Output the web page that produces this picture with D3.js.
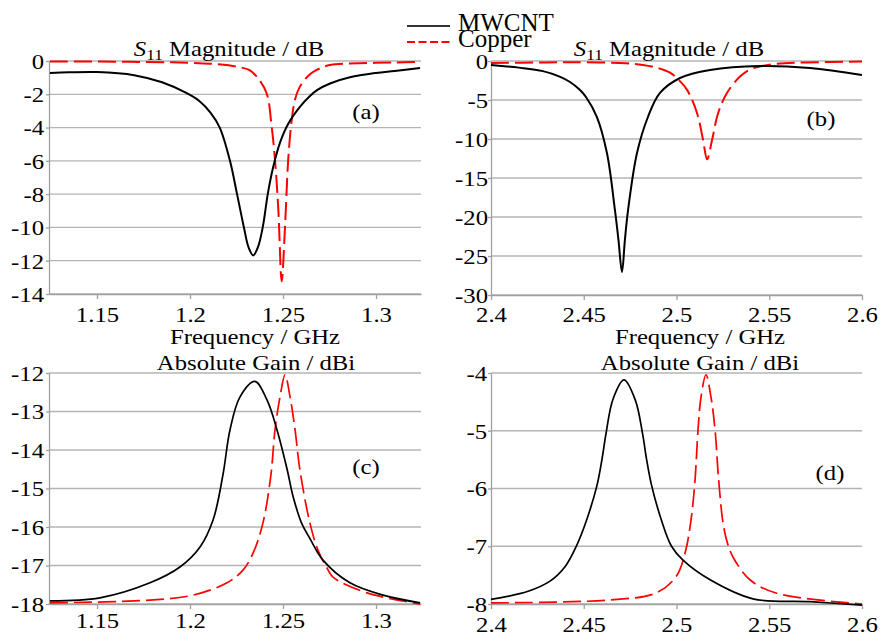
<!DOCTYPE html>
<html>
<head>
<meta charset="utf-8">
<script src="https://cdn.jsdelivr.net/npm/d3@7"></script>
<style>
  body { margin: 0; background: #fff; }
  svg { display: block; font-family: "Liberation Serif", "Times New Roman", serif; }
</style>
</head>
<body>
<div class="layout"></div>
<script>

// (a) S11 around 1.25 GHz
var aFreqMwcnt = [1.1247, 1.135, 1.15, 1.17, 1.185, 1.198, 1.205, 1.211, 1.216, 1.2215, 1.2253, 1.229, 1.2315, 1.234, 1.2365, 1.2392, 1.2419, 1.2448, 1.2484, 1.2529, 1.2591, 1.2645, 1.2683, 1.2753, 1.286, 1.30, 1.31, 1.3237]
var aMwcnt = [-0.72, -0.68, -0.66, -0.85, -1.28, -1.92, -2.4, -3.1, -4.0, -6.0, -8.0, -10.0, -11.2, -11.68, -11.2, -9.94, -7.94, -6.34, -4.9, -3.75, -2.75, -2.1, -1.75, -1.35, -0.98, -0.72, -0.6, -0.42]
var aFreqCopper = [1.1247, 1.16, 1.19, 1.205, 1.215, 1.2251, 1.232, 1.2359, 1.2412, 1.2439, 1.2457, 1.2475, 1.2493, 1.2511, 1.2528, 1.2547, 1.2565, 1.2591, 1.2635, 1.2681, 1.2753, 1.29, 1.31, 1.3237]
var aCopper = [-0.03, -0.04, -0.08, -0.13, -0.2, -0.34, -0.55, -0.94, -1.94, -3.94, -5.94, -8.94, -13.24, -9.94, -5.94, -3.54, -2.3, -1.54, -0.9, -0.54, -0.24, -0.14, -0.09, -0.06]

// (b) S11 around 2.5 GHz
var bFreqMwcnt = [2.4, 2.415, 2.428, 2.437, 2.4426, 2.448, 2.4512, 2.4571, 2.4625, 2.4668, 2.4687, 2.4706, 2.4722, 2.4739, 2.4787, 2.4846, 2.4911, 2.5019, 2.5181, 2.545, 2.572, 2.6]
var bMwcnt = [-0.5, -0.85, -1.3, -2.0, -2.69, -3.72, -4.62, -7.18, -11.8, -19.1, -22.9, -27.05, -22.9, -19.1, -11.8, -7.18, -4.1, -2.18, -1.15, -0.64, -0.9, -1.8]
var bFreqCopper = [2.4, 2.43, 2.4458, 2.4728, 2.4819, 2.49, 2.4965, 2.5011, 2.5057, 2.5111, 2.5143, 2.5165, 2.5192, 2.5224, 2.5272, 2.5342, 2.5396, 2.545, 2.5536, 2.57, 2.6]
var bCopper = [-0.26, -0.18, -0.15, -0.3, -0.5, -0.9, -1.5, -2.4, -3.7, -6.7, -10.1, -12.6, -10.1, -6.7, -4.1, -2.0, -1.1, -0.7, -0.35, -0.18, -0.08]

// (c) gain around 1.25 GHz
var cFreqMwcnt = [1.1247, 1.1516, 1.1785, 1.1946, 1.2054, 1.2124, 1.2177, 1.2215, 1.2269, 1.2349, 1.2414, 1.2468, 1.2522, 1.2554, 1.26, 1.2645, 1.2715, 1.286, 1.3038, 1.3237]
var cMwcnt = [-17.92, -17.84, -17.45, -17.04, -16.52, -15.82, -14.65, -13.48, -12.62, -12.22, -12.7, -13.48, -14.5, -15.2, -15.9, -16.3, -16.86, -17.45, -17.77, -17.97]
var cFreqCopper = [1.1247, 1.1785, 1.2016, 1.2199, 1.2285, 1.2339, 1.2392, 1.2435, 1.2457, 1.2484, 1.2511, 1.2538, 1.2565, 1.2591, 1.2645, 1.2688, 1.2735, 1.2769, 1.2952, 1.3237]
var cCopper = [-17.97, -17.9, -17.77, -17.45, -17.12, -16.68, -15.9, -14.65, -13.48, -12.62, -12.05, -12.62, -13.48, -14.52, -15.9, -16.6, -17.05, -17.3, -17.71, -18.0]

// (d) gain around 2.5 GHz
var dFreqMwcnt = [2.4, 2.42, 2.432, 2.44, 2.446, 2.4515, 2.4571, 2.4598, 2.462, 2.4658, 2.4717, 2.4778, 2.4817, 2.4839, 2.4866, 2.4919, 2.4973, 2.5035, 2.5181, 2.5412, 2.572, 2.6]
var dMwcnt = [-7.92, -7.78, -7.6, -7.35, -7.0, -6.55, -5.95, -5.5, -5.05, -4.45, -4.12, -4.47, -5.05, -5.5, -5.95, -6.55, -7.0, -7.24, -7.58, -7.91, -7.96, -8.02]
var dFreqCopper = [2.4, 2.4642, 2.4889, 2.4997, 2.5046, 2.5078, 2.51, 2.5116, 2.5132, 2.5159, 2.5186, 2.5208, 2.5226, 2.5251, 2.5275, 2.5305, 2.5396, 2.5536, 2.6]
var dCopper = [-7.98, -7.93, -7.81, -7.53, -7.12, -6.55, -5.85, -4.99, -4.42, -4.03, -4.42, -4.99, -5.8, -6.6, -6.95, -7.19, -7.58, -7.81, -8.0]

// tick labels
var xTicksLow = [1.15, 1.2, 1.25, 1.3]
var xTicksHigh = [2.4, 2.45, 2.5, 2.55, 2.6]
var yTicksA = [0, -2, -4, -6, -8, -10, -12, -14]
var yTicksB = [0, -5, -10, -15, -20, -25, -30]
var yTicksC = [-12, -13, -14, -15, -16, -17, -18]
var yTicksD = [-4, -5, -6, -7, -8]

var seriesNames = ["MWCNT", "Copper"]
var titleS11 = " Magnitude / dB"
var titleGain = "Absolute Gain / dBi"
var titleFreq = "Frequency / GHz"

var width = 886
var height = 636
var stretch = 1.15
var fontSize = 21.5
var serif = "'Liberation Serif', 'Times New Roman', serif"
var gridColor = "#b4b4b4"
var axisColor = "#a0a0a0"

function drawChart() {
  var svg = d3.select("div.layout")
    .append("svg")
      .attr("width", width)
      .attr("height", height)
      .attr("font-family", serif)

  var panels = [
    { left: 49, right: 421, top: 61, bottom: 294, xDomain: [1.1242, 1.3242], yDomain: [-14, 0],
      xTicks: xTicksLow, yTicks: yTicksA, xGap: 28, yGap: 5, lw: 2,
      mwcnt: [aFreqMwcnt, aMwcnt], copper: [aFreqCopper, aCopper], tag: ["(a)", 366, 119] },
    { left: 491, right: 862, top: 61, bottom: 295, xDomain: [2.4, 2.6], yDomain: [-30, 0],
      xTicks: xTicksHigh, yTicks: yTicksB, xGap: 27, yGap: 3, lw: 2,
      mwcnt: [bFreqMwcnt, bMwcnt], copper: [bFreqCopper, bCopper], tag: ["(b)", 821, 126] },
    { left: 49, right: 421, top: 373, bottom: 604, xDomain: [1.1242, 1.3242], yDomain: [-18, -12],
      xTicks: xTicksLow, yTicks: yTicksC, xGap: 24, yGap: 5, lw: 1.7,
      mwcnt: [cFreqMwcnt, cMwcnt], copper: [cFreqCopper, cCopper], tag: ["(c)", 366, 474] },
    { left: 491, right: 862, top: 373, bottom: 604, xDomain: [2.4, 2.6], yDomain: [-8, -4],
      xTicks: xTicksHigh, yTicks: yTicksD, xGap: 28, yGap: 4, lw: 1.7,
      mwcnt: [dFreqMwcnt, dMwcnt], copper: [dFreqCopper, dCopper], tag: ["(d)", 830, 480] }
  ]

  panels.forEach(function (p) {
    makePanel(svg, p)
  })

  // titles and axis names
  addS11Title(svg, 229, 56)
  addS11Title(svg, 669, 56)
  addText(svg, 255, 344, titleFreq, fontSize)
  addText(svg, 700, 344, titleFreq, fontSize)
  addText(svg, 256, 370, titleGain, fontSize)
  addText(svg, 700, 370, titleGain, fontSize)

  makeLegend(svg)
}

function makePanel(svg, p) {
  var x = d3.scaleLinear()
    .domain(p.xDomain)
    .range([p.left, p.right])

  var y = d3.scaleLinear()
    .domain(p.yDomain)
    .range([p.bottom, p.top])

  // horizontal grid
  svg.append("g")
    .selectAll("line")
    .data(p.yTicks)
    .enter()
    .append("line")
      .attr("x1", p.left)
      .attr("x2", p.right)
      .attr("y1", function (d) { return y(d) })
      .attr("y2", function (d) { return y(d) })
      .attr("stroke", gridColor)
      .attr("stroke-width", 1.3)

  // x axis
  var gx = svg.append("g")
    .attr("transform", "translate(0," + p.bottom + ")")
    .call(d3.axisBottom(x).tickValues(p.xTicks).tickSize(5).tickSizeOuter(0)
      .tickFormat(function (d) { return String(d) }))
  styleAxis(gx)
  gx.selectAll(".tick text")
    .attr("y", p.xGap)
    .attr("dy", null)

  // y axis
  var gy = svg.append("g")
    .attr("transform", "translate(" + p.left + ",0)")
    .call(d3.axisLeft(y).tickValues(p.yTicks).tickSize(3).tickSizeOuter(0)
      .tickFormat(function (d) { return String(d) }))
  styleAxis(gy)
  gy.selectAll(".tick text")
    .attr("x", -p.yGap / stretch)
    .attr("dy", "0.34em")

  var line = d3.line()
    .x(function (d) { return x(d[0]) })
    .y(function (d) { return y(d[1]) })
    .curve(d3.curveCatmullRom.alpha(0.5))

  svg.append("path")
    .datum(d3.zip(p.copper[0], p.copper[1]))
    .attr("d", line)
    .attr("fill", "none")
    .attr("stroke", "#ff0000")
    .attr("stroke-width", p.lw)
    .attr("stroke-dasharray", "18,6")

  svg.append("path")
    .datum(d3.zip(p.mwcnt[0], p.mwcnt[1]))
    .attr("d", line)
    .attr("fill", "none")
    .attr("stroke", "#000")
    .attr("stroke-width", p.lw)

  addText(svg, p.tag[1], p.tag[2], p.tag[0], fontSize)
}

function styleAxis(g) {
  g.attr("font-family", serif)
    .attr("font-size", fontSize)
  g.select(".domain")
    .attr("stroke", axisColor)
    .attr("stroke-width", 1.3)
  g.selectAll(".tick line")
    .attr("stroke", axisColor)
    .attr("stroke-width", 1.3)
  g.selectAll(".tick text")
    .attr("fill", "#000")
    .attr("transform", "scale(" + stretch + ",1)")
}

function addText(svg, x, y, str, size) {
  return svg.append("text")
    .attr("transform", "translate(" + x + "," + y + ") scale(" + stretch + ",1)")
    .attr("text-anchor", "middle")
    .attr("font-family", serif)
    .attr("font-size", size)
    .text(str)
}

function addS11Title(svg, x, y) {
  var t = svg.append("text")
    .attr("transform", "translate(" + x + "," + y + ") scale(" + stretch + ",1)")
    .attr("text-anchor", "middle")
    .attr("font-family", serif)
    .attr("font-size", fontSize)
  t.append("tspan").attr("font-style", "italic").text("S")
  t.append("tspan").attr("font-size", 15).attr("dy", 4).text("11")
  t.append("tspan").attr("dy", -4).text(titleS11)
}

// legend at the top middle
function makeLegend(svg) {
  var rows = [
    { name: seriesNames[0], y: 26, color: "#333", dash: null },
    { name: seriesNames[1], y: 42, color: "#ff0000", dash: "8,3.5" }
  ]

  var legend = svg.append("g")

  legend.selectAll("line")
    .data(rows)
    .enter()
    .append("line")
      .attr("x1", 407)
      .attr("x2", 450)
      .attr("y1", function (d) { return d.y })
      .attr("y2", function (d) { return d.y })
      .attr("stroke", function (d) { return d.color })
      .attr("stroke-width", 2)
      .attr("stroke-dasharray", function (d) { return d.dash })

  legend.selectAll("text")
    .data(rows)
    .enter()
    .append("text")
      .attr("x", 458)
      .attr("y", function (d) { return d.y + 5 })
      .attr("font-family", serif)
      .attr("font-size", 25)
      .text(function (d) { return d.name })
}

drawChart()
</script>
</body>
</html>
